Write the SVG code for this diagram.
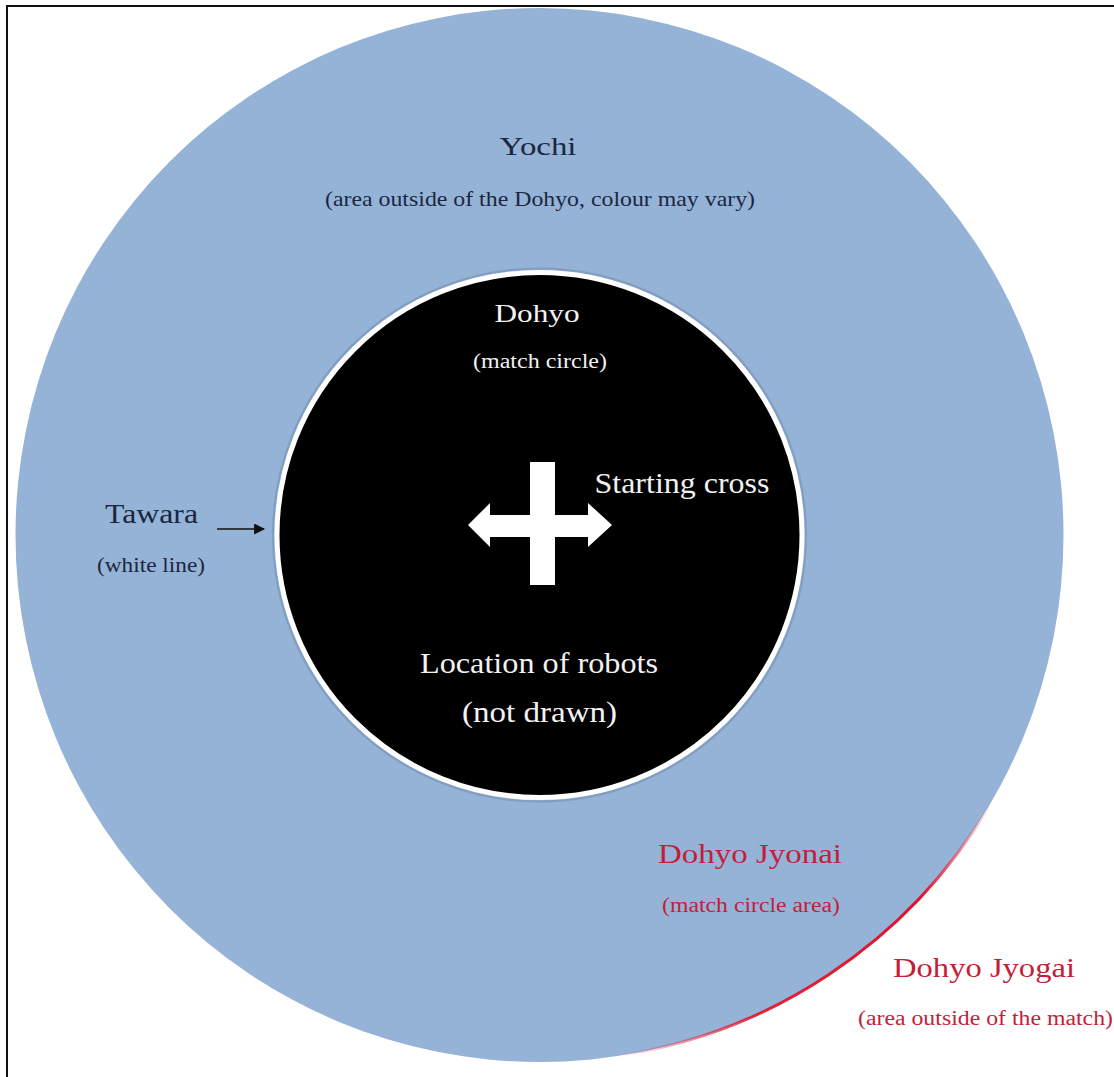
<svg xmlns="http://www.w3.org/2000/svg" width="1114" height="1077" viewBox="0 0 1114 1077">
<style>
text{font-family:"Liberation Serif","Times New Roman",serif;text-anchor:middle}
.dark{fill:#1b2740}
.white{fill:#f2f2f2}
.red{fill:#c41e3a}
</style>
<defs>
<marker id="arr" viewBox="0 0 10 10" refX="9" refY="5" markerWidth="12" markerHeight="11" markerUnits="userSpaceOnUse" orient="auto"><path d="M0,0 L10,5 L0,10 z" fill="#111"/></marker>
<linearGradient id="redfade" gradientUnits="userSpaceOnUse" x1="990" y1="800" x2="620" y2="1060">
<stop offset="0" stop-color="#e0102a" stop-opacity="0"/>
<stop offset="0.25" stop-color="#e0102a" stop-opacity="1"/>
<stop offset="0.7" stop-color="#e0102a" stop-opacity="0.9"/>
<stop offset="1" stop-color="#e0102a" stop-opacity="0"/>
</linearGradient>
</defs>
<rect x="0" y="0" width="1114" height="1077" fill="#fff"/>
<rect x="7" y="6" width="1200" height="1200" fill="none" stroke="#111" stroke-width="2"/>
<g id="yochi">
<ellipse cx="539.5" cy="535" rx="524" ry="527" fill="#95b3d7"/>
<text class="dark" x="538" y="155" font-size="26" textLength="77" lengthAdjust="spacingAndGlyphs">Yochi</text>
<text class="dark" x="540" y="206" font-size="22" textLength="430" lengthAdjust="spacingAndGlyphs">(area outside of the Dohyo, colour may vary)</text>
</g>
<g id="jyogai-line">
<path d="M 990,805 A 524 527 0 0 1 610,1057" fill="none" stroke="url(#redfade)" stroke-width="3"/>
</g>
<g id="dohyo">
<circle cx="539.5" cy="535" r="266.5" fill="none" stroke="#6f88a8" stroke-width="2" opacity="0.5"/>
<circle cx="539.5" cy="535" r="262.5" fill="#000" stroke="#fff" stroke-width="5"/>
<text class="white" x="537" y="322" font-size="26" textLength="85" lengthAdjust="spacingAndGlyphs">Dohyo</text>
<text class="white" x="540" y="368" font-size="20" textLength="134" lengthAdjust="spacingAndGlyphs">(match circle)</text>
</g>
<g id="starting-cross">
<polygon fill="#fff" points="468,525 490,503 490,515 588,515 588,503 612,525 588,547 588,537 490,537 490,547"/>
<rect x="530" y="462" width="25" height="123" fill="#fff"/>
<text class="white" x="682" y="493" font-size="29" textLength="175" lengthAdjust="spacingAndGlyphs">Starting cross</text>
</g>
<g id="robots">
<text class="white" x="539" y="673" font-size="30" textLength="238" lengthAdjust="spacingAndGlyphs">Location of robots</text>
<text class="white" x="539.5" y="722" font-size="30" textLength="155" lengthAdjust="spacingAndGlyphs">(not drawn)</text>
</g>
<g id="tawara">
<text class="dark" x="151.5" y="523" font-size="27" textLength="93" lengthAdjust="spacingAndGlyphs">Tawara</text>
<text class="dark" x="151" y="572" font-size="20" textLength="108" lengthAdjust="spacingAndGlyphs">(white line)</text>
</g>
<g id="jyonai">
<text class="red" x="750" y="863" font-size="28" textLength="184" lengthAdjust="spacingAndGlyphs">Dohyo Jyonai</text>
<text class="red" x="751" y="912" font-size="20" textLength="178" lengthAdjust="spacingAndGlyphs">(match circle area)</text>
</g>
<g id="jyogai">
<text class="red" x="984" y="977" font-size="28" textLength="182" lengthAdjust="spacingAndGlyphs">Dohyo Jyogai</text>
<text class="red" x="985.5" y="1025" font-size="20" textLength="255" lengthAdjust="spacingAndGlyphs">(area outside of the match)</text>
</g>
<g id="connectors">
<line x1="217" y1="529" x2="264" y2="529" stroke="#111" stroke-width="1.6" marker-end="url(#arr)"/>
</g>
</svg>
